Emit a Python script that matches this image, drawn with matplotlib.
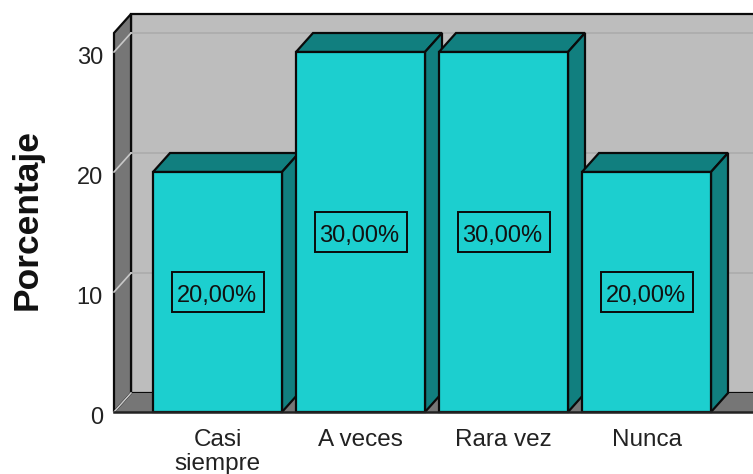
import matplotlib
matplotlib.use("Agg")
import matplotlib.pyplot as plt
from matplotlib.patches import Polygon, Rectangle
from matplotlib.transforms import ScaledTranslation

plt.rcParams["font.family"] = ["Liberation Sans", "DejaVu Sans"]

categories = ["Casi\nsiempre", "A veces", "Rara vez", "Nunca"]
values = [20, 30, 30, 20]
labels = ["20,00%", "30,00%", "30,00%", "20,00%"]
y_ticks = [0, 10, 20, 30]

FACE = "#1ccfcf"
SIDE = "#117f7f"
WALL = "#bdbdbd"
DARK_WALL = "#767676"
EDGE = "#0a0a0a"

W, H = 753, 474
fig = plt.figure(figsize=(W / 100, H / 100), dpi=100)

# axes is the front plane of the 3D box
left, right, bottom, top = 114, 753, 412, 33
ax = fig.add_axes([left / W, 1 - bottom / H, (right - left) / W, (bottom - top) / H])
px_x = 143  # px per category
px_y = 12  # px per unit
x0 = (left - 217.5) / px_x
x1 = (right - 217.5) / px_x
y1 = (bottom - top) / px_y
ax.set_xlim(x0, x1)
ax.set_ylim(0, y1)

# depth of the 3D offset, in data units
dx = 17 / px_x
dy = 19 / px_y
bar_w = 129 / px_x
box_w = 92 / px_x
box_h = 40 / px_y


def poly(pts, color, lw=1.6, edge=EDGE, z=1):
    ax.add_patch(Polygon(pts, closed=True, facecolor=color, edgecolor=edge,
                         linewidth=lw, clip_on=False, zorder=z))


def shift(px_x_off, px_y_off):
    return ScaledTranslation(px_x_off / 100, px_y_off / 100, fig.dpi_scale_trans)


# walls and floor
poly([(x0 + dx, dy), (x1 + 1, dy), (x1 + 1, y1 + dy), (x0 + dx, y1 + dy)], WALL, z=1)
poly([(x0, 0), (x1 + 1, 0), (x1 + 1, dy), (x0 + dx, dy)], DARK_WALL, lw=0, edge="none", z=1.1)
poly([(x0, 0), (x0 + dx, dy), (x0 + dx, y1 + dy), (x0, y1)], DARK_WALL, z=1.2)

# gridlines
for t in y_ticks[1:]:
    ax.plot([x0 + dx, x1 + 1], [t + dy, t + dy], color="#aeaeae", lw=1.4, zorder=1.3, clip_on=False)
    ax.plot([x0, x0 + dx], [t, t + dy], color="#c8c8c8", lw=1.2, zorder=1.3, clip_on=False)
ax.plot([x0, x0 + dx], [0, dy], color="#c8c8c8", lw=1.2, zorder=1.3, clip_on=False)

# bars
for i, (v, lab) in enumerate(zip(values, labels)):
    a = i - bar_w / 2
    b = i + bar_w / 2
    z = 2 + i
    poly([(a, v), (b, v), (b + dx, v + dy), (a + dx, v + dy)], SIDE, z=z)
    poly([(b, 0), (b + dx, dy), (b + dx, v + dy), (b, v)], SIDE, z=z)
    poly([(a, 0), (b, 0), (b, v), (a, v)], FACE, z=z + 0.1)
    ax.add_patch(Rectangle((i - box_w / 2, v / 2 - box_h / 2), box_w, box_h, facecolor=FACE,
                           edgecolor=EDGE, linewidth=1.4, zorder=z + 0.2))
    ax.text(i, v / 2, lab, ha="center", va="center", fontsize=17, color="#111111", zorder=z + 0.3,
            transform=ax.transData + shift(-1, -4))

for s in ["top", "left", "right"]:
    ax.spines[s].set_visible(False)
ax.spines["bottom"].set_color("#222222")
ax.spines["bottom"].set_linewidth(1.8)
ax.spines["bottom"].set_zorder(20)
ax.patch.set_visible(False)

ax.set_xticks(range(len(categories)))
ax.set_xticklabels(categories, fontsize=17.5, color="#222222", linespacing=1.16)
ax.set_yticks(y_ticks)
ax.set_yticklabels([str(t) for t in y_ticks], fontsize=17, color="#222222")
ax.tick_params(axis="x", length=0, pad=12)
ax.tick_params(axis="y", length=0, pad=8)
for tick_label in ax.get_yticklabels():
    tick_label.set_transform(tick_label.get_transform() + shift(0, -4))
ax.set_ylabel("Porcentaje", fontsize=25.5, fontweight="bold", color="#111111", labelpad=24, y=0.507)

fig.savefig("out.png", dpi=100)
